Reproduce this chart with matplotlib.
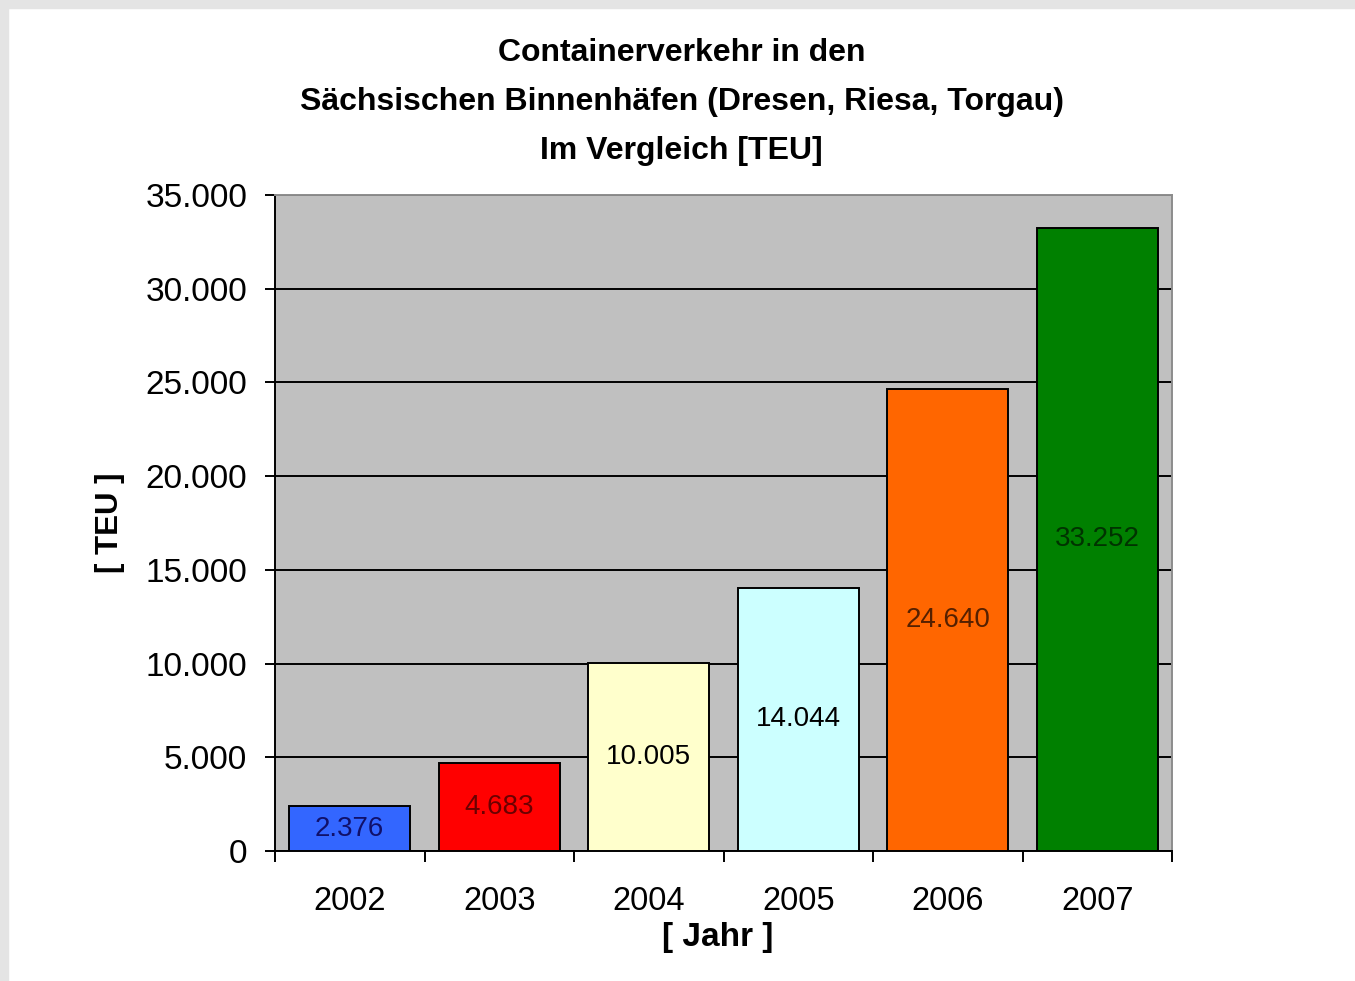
import matplotlib
matplotlib.use("Agg")
import matplotlib.pyplot as plt
from matplotlib.patches import Rectangle
from matplotlib.ticker import FuncFormatter, FixedLocator

# data
years = ["2002", "2003", "2004", "2005", "2006", "2007"]
teu = [2376, 4683, 10005, 14044, 24640, 33252]
bar_colors = ["#3366FF", "#FF0000", "#FFFFCC", "#CCFFFF", "#FF6600", "#008000"]
label_colors = ["#10106A", "#6A0000", "#000000", "#000000", "#552000", "#003300"]
title_lines = ["Containerverkehr in den",
               "Sächsischen Binnenhäfen (Dresen, Riesa, Torgau)",
               "Im Vergleich [TEU]"]

plt.rcParams["font.family"] = ["Liberation Sans", "DejaVu Sans"]


def de_thousands(v, pos=None):
    # German style thousands separator
    return f"{v:,.0f}".replace(",", ".")


fig = plt.figure(figsize=(13.55, 9.81), dpi=100)
fig.patch.set_facecolor("white")

# light gray frame on the left and top edges
W, H = 1355, 981
fig.patches.append(Rectangle((0, 0), 8 / W, 1, transform=fig.transFigure,
                             color="#E4E4E4", zorder=-5))
fig.patches.append(Rectangle((0, 1 - 8 / H), 1, 8 / H, transform=fig.transFigure,
                             color="#E4E4E4", zorder=-5))

ax = fig.add_axes([275 / W, 130 / H, 897 / W, 656 / H])
ax.set_facecolor("#C0C0C0")

x = list(range(len(years)))
bars = ax.bar(x, teu, width=0.81, color=bar_colors, edgecolor="black",
              linewidth=1.4, zorder=3)

for rect, val, col in zip(bars, teu, label_colors):
    ax.text(rect.get_x() + rect.get_width() / 2, val / 2, de_thousands(val),
            ha="center", va="center", fontsize=20, color=col, zorder=4)

ax.set_xlim(-0.5, len(years) - 0.5)
ax.set_ylim(0, 35000)
ax.set_yticks(range(0, 35001, 5000))
ax.yaxis.set_major_formatter(FuncFormatter(de_thousands))
ax.grid(axis="y", color="black", linewidth=1.4, zorder=1)
ax.set_axisbelow(True)

# tick marks on category boundaries, labels in the middle
ax.xaxis.set_major_locator(FixedLocator([i - 0.5 for i in range(len(years) + 1)]))
ax.xaxis.set_major_formatter(FuncFormatter(lambda v, p: ""))
ax.xaxis.set_minor_locator(FixedLocator(x))
ax.set_xticklabels(years, minor=True)
ax.tick_params(axis="x", which="major", length=8, width=1.4, direction="out")
ax.tick_params(axis="x", which="minor", length=0, pad=25, labelsize=23.5)
ax.tick_params(axis="y", length=7, width=1.4, direction="out", pad=13, labelsize=24)

for side in ["left", "bottom"]:
    ax.spines[side].set_color("black")
    ax.spines[side].set_linewidth(1.4)
for side in ["top", "right"]:
    ax.spines[side].set_color("#8C8C8C")
    ax.spines[side].set_linewidth(1.4)

ax.set_xlabel("[ Jahr ]", fontsize=24, fontweight="bold", va="center")
ax.xaxis.set_label_coords(0.494, -0.1326)
ax.set_ylabel("[ TEU ]", fontsize=22.5, fontweight="bold", va="center")
ax.yaxis.set_label_coords(-0.184, 0.5)

for line, ypix in zip(title_lines, [53, 102, 151]):
    fig.text(681.5 / W, 1 - ypix / H, line, ha="center", va="center",
             fontsize=23, fontweight="bold")

fig.savefig("out.png", dpi=100, facecolor=fig.get_facecolor())
